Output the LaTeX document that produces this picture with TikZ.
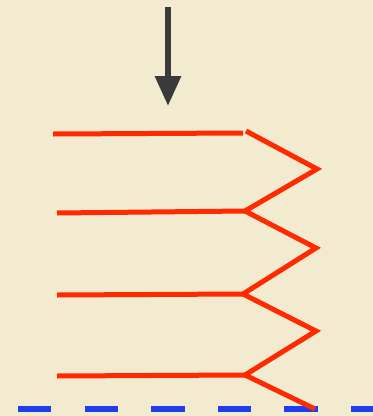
\documentclass[tikz,border=0pt]{standalone}
\usetikzlibrary{arrows.meta}
\definecolor{bgc}{HTML}{F2EBD0}
\definecolor{springred}{HTML}{FF2A00}
\definecolor{floorblue}{HTML}{1E3CF0}
\definecolor{arrowgray}{HTML}{3A3A3A}
\begin{document}
\begin{tikzpicture}[x=1pt,y=-1pt,
  spring/.style={draw=springred,line width=5pt,line cap=butt,line join=miter},
  floor/.style={draw=floorblue,line width=6pt,dash pattern=on 33.3pt off 33.3pt,dash phase=-18pt},
  force/.style={draw=arrowgray,line width=6pt,-{Triangle[width=25pt,length=30pt]}}]
\fill[bgc] (0,0) rectangle (373,416);
\useasboundingbox (0,0) rectangle (373,416);
% coordinates
\coordinate (a0) at (168,7);
\coordinate (a1) at (168,106);
\coordinate (h1s) at (53,134);
\coordinate (h1e) at (243,133);
\coordinate (z0) at (246,131);
\coordinate (p1) at (317,169);
\coordinate (v1) at (245,211);
\coordinate (h2s) at (57,213);
\coordinate (p2) at (316,248);
\coordinate (v2) at (243,294);
\coordinate (h3s) at (57,295);
\coordinate (p3) at (316,331);
\coordinate (v3) at (245,375);
\coordinate (h4s) at (57,376);
\coordinate (p4) at (315,409);
\coordinate (f0) at (0,409);
\coordinate (f1) at (373,409);
% floor
\draw[floor] (f0) -- (f1);
% force arrow
\draw[force] (a0) -- (a1);
% spring
\draw[spring] (h1s) -- (h1e);
\draw[spring] (z0) -- (p1) -- (v1) -- (p2) -- (v2) -- (p3) -- (v3) -- (p4);
\draw[spring] (h2s) -- (v1);
\draw[spring] (h3s) -- (v2);
\draw[spring] (h4s) -- (v3);
\end{tikzpicture}
\end{document}
